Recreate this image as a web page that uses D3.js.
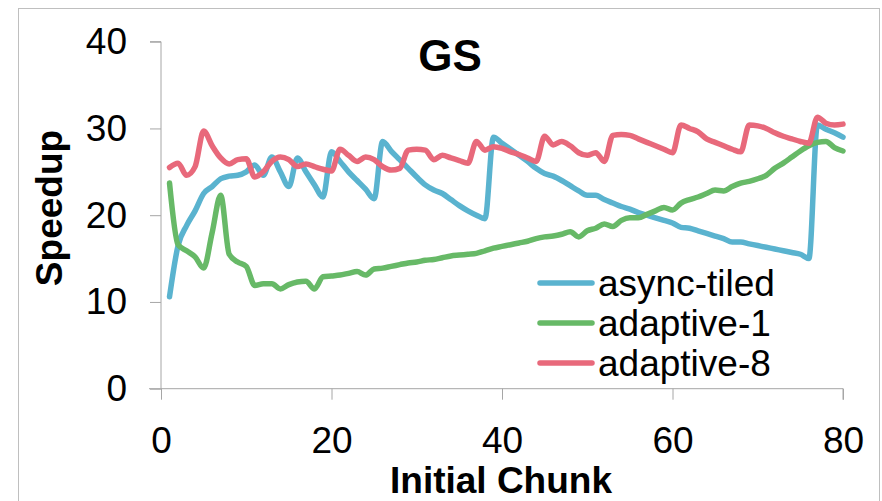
<!DOCTYPE html>
<html>
<head>
<meta charset="utf-8">
<script src="https://cdn.jsdelivr.net/npm/d3@7"></script>
<style>
html,body{margin:0;padding:0;background:#fff;}
svg{display:block;}
text{font-family:"Liberation Sans",Arial,sans-serif;fill:#000;}
</style>
</head>
<body>
<svg id="chart" width="882" height="501"></svg>
<script>
const chunks = d3.range(1, 81);
const asyncTiled = [10.6,16.5,18.8,20.5,22.5,23.3,24.2,24.5,24.6,25.0,25.8,24.6,26.7,25.0,23.3,26.6,25.0,23.5,22.1,27.3,
  26.2,25.0,24.0,23.0,21.9,28.5,27.4,26.4,25.4,24.4,23.5,22.9,22.5,21.8,21.1,20.5,20.0,19.6,29.0,28.3,
  27.6,26.9,26.2,25.4,24.8,24.5,24.0,23.4,22.8,22.3,22.3,21.8,21.4,21.0,20.7,20.3,20.0,19.7,19.4,19.1,
  18.6,18.5,18.2,17.9,17.6,17.3,16.9,16.9,16.7,16.5,16.3,16.1,15.9,15.7,15.5,15.0,30.4,29.9,29.5,29.0];
const adaptive1 = [23.7,16.6,15.9,15.2,13.9,18.0,22.3,15.5,14.6,14.1,11.9,12.1,12.1,11.5,12.0,12.3,12.4,11.5,12.9,13.0,
  13.1,13.3,13.5,13.1,13.8,13.9,14.1,14.3,14.5,14.6,14.8,14.9,15.1,15.3,15.4,15.5,15.6,15.9,16.2,16.4,
  16.6,16.8,17.0,17.3,17.5,17.6,17.8,18.1,17.5,18.2,18.5,19.0,18.7,19.4,19.7,19.7,20.1,20.5,20.9,20.6,
  21.4,21.8,22.1,22.5,22.9,22.8,23.3,23.7,23.9,24.2,24.6,25.4,26.0,26.7,27.4,28.0,28.4,28.5,27.8,27.4];
const adaptive8 = [25.5,26.0,24.6,25.6,29.7,28.0,26.6,25.9,26.4,26.5,24.4,25.0,26.2,26.7,26.4,25.6,25.9,25.6,25.3,25.1,
  27.6,26.9,26.2,26.7,26.4,25.6,25.2,25.4,27.5,27.6,27.5,26.4,26.9,26.6,26.3,26.0,28.5,27.5,27.9,27.7,
  27.3,27.0,26.6,26.2,29.1,28.1,28.5,28.0,27.2,26.9,27.2,26.2,29.2,29.3,29.2,28.8,28.4,28.0,27.6,27.2,
  30.4,30.0,29.6,28.8,28.4,28.0,27.6,27.3,30.4,30.3,30.0,29.5,29.1,28.8,28.5,28.3,31.3,30.6,30.4,30.5];
const seriesNames = ["async-tiled","adaptive-1","adaptive-8"];
const seriesColors = ["#5ab3cf","#67b967","#e8697b"];
const xTicks = [0,20,40,60,80];
const yTicks = [0,10,20,30,40];

const svg = d3.select("#chart");
const fontSize = 37;

// outer border
svg.append("rect").attr("x",18.5).attr("y",8.5).attr("width",861).attr("height",500)
  .attr("fill","none").attr("stroke","#bfbfbf").attr("stroke-width",1);

const x = d3.scaleLinear().domain([0,80]).range([161,843]);
const y = d3.scaleLinear().domain([0,40]).range([388.7,41.7]);

// y axis
const yAxis = svg.append("g").attr("transform","translate(161,0)")
  .call(d3.axisLeft(y).tickValues(yTicks).tickSize(11).tickPadding(23).tickFormat(d3.format("d")));
yAxis.select(".domain").attr("stroke","#a6a6a6").attr("d","M-11,"+y(40)+"H0V"+y(0));
yAxis.selectAll(".tick line").attr("stroke","#a6a6a6");
yAxis.selectAll(".tick text").style("font-size",fontSize+"px").attr("font-family","Liberation Sans, Arial, sans-serif").attr("fill","#000");

// x axis
const xAxis = svg.append("g").attr("transform","translate(0,388.7)")
  .call(d3.axisBottom(x).tickValues(xTicks).tickSize(11).tickPadding(27).tickFormat(d3.format("d")));
xAxis.select(".domain").attr("stroke","#a6a6a6").attr("d","M"+(x(0)-12)+",0H"+x(80)+"V11");
xAxis.selectAll(".tick line").attr("stroke","#a6a6a6");
xAxis.selectAll(".tick text").style("font-size",fontSize+"px").attr("font-family","Liberation Sans, Arial, sans-serif").attr("fill","#000");

// lines
const allSeries = [asyncTiled, adaptive1, adaptive8];
const line = d3.line().x((d,i)=>x(chunks[i])).y(d=>y(d)).curve(d3.curveMonotoneX);
allSeries.forEach((s,k)=>{
  svg.append("path").datum(s).attr("d",line).attr("fill","none")
    .attr("stroke",seriesColors[k]).attr("stroke-width",5.5)
    .attr("stroke-linejoin","round").attr("stroke-linecap","round");
});

// title
svg.append("text").attr("x",450).attr("y",71).attr("text-anchor","middle")
  .style("font-size","44px").style("font-weight","bold").text("GS");

// axis titles
svg.append("text").attr("x",501).attr("y",493).attr("text-anchor","middle")
  .style("font-size",fontSize+"px").style("font-weight","bold").text("Initial Chunk");
svg.append("text").attr("transform","translate(62,208) rotate(-90)").attr("text-anchor","middle")
  .style("font-size",fontSize+"px").style("font-weight","bold").text("Speedup");

// legend
const legend = svg.append("g");
seriesNames.forEach((n,k)=>{
  const ly = 283 + k*40;
  legend.append("line").attr("x1",540).attr("x2",592).attr("y1",ly).attr("y2",ly)
    .attr("stroke",seriesColors[k]).attr("stroke-width",5.5).attr("stroke-linecap","round");
  legend.append("text").attr("x",598).attr("y",ly+13).style("font-size",fontSize+"px").text(n);
});
</script>
</body>
</html>
